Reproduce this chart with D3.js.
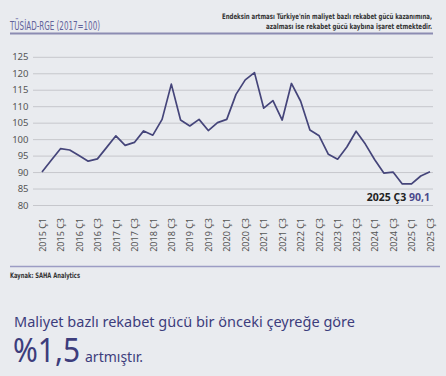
<!DOCTYPE html>
<html>
<head>
<meta charset="utf-8">
<script src="https://cdn.jsdelivr.net/npm/d3@7"></script>
<style>
  body { margin: 0; background: #e9ebef; }
  svg { display: block; }
</style>
</head>
<body>
<svg id="chart" width="446" height="376"></svg>
<script>
// quarters 2015 Ç1 .. 2025 Ç3
const years = d3.range(2015, 2026);
const quarters = years.flatMap(y => [1, 2, 3, 4].map(q => `${y} Ç${q}`)).slice(0, 43);
const values = [90.0, 93.6, 97.1, 96.7, 95.0, 93.3, 94.0, 97.5, 101.0, 98.1, 99.0,
  102.5, 101.2, 106.0, 116.7, 105.8, 104.0, 106.0, 102.6, 105.0, 106.0,
  113.6, 118.0, 120.2, 109.4, 111.7, 105.8, 116.9, 111.5, 102.8, 101.0,
  95.4, 93.9, 97.6, 102.4, 98.5, 93.8, 89.7, 90.0, 86.4, 86.4, 88.8, 90.1];
const yTicks = [80, 85, 90, 95, 100, 105, 110, 115, 120, 125];
const xTicks = quarters.filter(q => q.endsWith("Ç1") || q.endsWith("Ç3"));

const svg = d3.select("#chart");
const ink = "#45457a";
const numFont = "'Noto Sans', sans-serif";
const narrow = "'DejaVu Sans Condensed', 'Liberation Sans Narrow', sans-serif";

const x = d3.scalePoint().domain(quarters).range([42, 430]);
const y = d3.scaleLinear().domain([80, 125]).range([205, 56.8]);

// header
svg.append("text")
  .attr("x", 10).attr("y", 29.5)
  .attr("font-family", narrow).attr("font-size", 12)
  .attr("textLength", 90).attr("lengthAdjust", "spacingAndGlyphs")
  .attr("fill", "#62629a")
  .text("TÜSİAD-RGE (2017=100)");

const note = ["Endeksin artması Türkiye'nin maliyet bazlı rekabet gücü kazanımına,",
  "azalması ise rekabet gücü kaybına işaret etmektedir."];
svg.selectAll(".note").data(note).enter().append("text")
  .attr("class", "note")
  .attr("x", 432).attr("y", (d, i) => 18.5 + i * 10.5)
  .attr("text-anchor", "end")
  .attr("font-family", narrow).attr("font-size", 7.5).attr("font-weight", "bold")
  .attr("textLength", (d, i) => i == 0 ? 210 : 166).attr("lengthAdjust", "spacingAndGlyphs")
  .attr("fill", "#333")
  .text(d => d);

svg.append("line")
  .attr("x1", 10).attr("x2", 433).attr("y1", 33.5).attr("y2", 33.5)
  .attr("stroke", "#8c8cb2").attr("stroke-width", 2);

// y grid + labels
const yAxis = svg.append("g")
  .attr("transform", "translate(433,0)")
  .call(d3.axisLeft(y).tickValues(yTicks).tickSize(400).tickPadding(4.5));
yAxis.select(".domain").remove();
yAxis.selectAll("line").attr("stroke", "#c6c7cc").attr("stroke-width", 1);
yAxis.selectAll("text")
  .attr("font-family", numFont).attr("font-size", 9.5).attr("fill", "#555");

// x labels
const xAxis = svg.append("g")
  .attr("transform", "translate(0,205)")
  .call(d3.axisBottom(x).tickValues(xTicks).tickSize(0));
xAxis.select(".domain").remove();
xAxis.selectAll("text")
  .attr("transform", "rotate(-90)")
  .attr("x", -13).attr("y", 0).attr("dy", "0.35em")
  .attr("text-anchor", "end")
  .attr("font-family", numFont).attr("font-size", 9).attr("fill", "#555");

// line
svg.append("path")
  .datum(values)
  .attr("fill", "none")
  .attr("stroke", ink).attr("stroke-width", 1.7)
  .attr("stroke-linejoin", "round")
  .attr("d", d3.line().x((d, i) => x(quarters[i])).y(d => y(d)));

// last value annotation
const last = values.length - 1;
const ann = svg.append("text")
  .attr("x", x(quarters[last])).attr("y", y(values[last]) + 29)
  .attr("text-anchor", "end")
  .attr("font-family", numFont).attr("font-size", 10.5).attr("font-weight", "bold");
ann.append("tspan").attr("fill", "#222").text(quarters[last] + " ");
ann.append("tspan").attr("fill", "#4a4a8c").text(String(values[last]).replace(".", ","));

// bottom rule + source
svg.append("line")
  .attr("x1", 10).attr("x2", 440).attr("y1", 266.5).attr("y2", 266.5)
  .attr("stroke", "#9c9cc4").attr("stroke-width", 1.5);
svg.append("text")
  .attr("x", 10).attr("y", 278)
  .attr("font-family", narrow).attr("font-size", 7.5).attr("font-weight", "bold")
  .attr("textLength", 70).attr("lengthAdjust", "spacingAndGlyphs")
  .attr("fill", "#333")
  .text("Kaynak: SAHA Analytics");

// summary text
svg.append("text")
  .attr("x", 14).attr("y", 327)
  .attr("font-family", numFont).attr("font-size", 14.5)
  .attr("fill", "#3d3d7c")
  .text("Maliyet bazlı rekabet gücü bir önceki çeyreğe göre");
svg.append("text")
  .attr("x", 13).attr("y", 362)
  .attr("font-family", numFont).attr("font-size", 32)
  .attr("textLength", 67).attr("lengthAdjust", "spacingAndGlyphs")
  .attr("fill", "#3d3d7c")
  .text("%1,5");
svg.append("text")
  .attr("x", 85).attr("y", 362)
  .attr("font-family", numFont).attr("font-size", 14)
  .attr("fill", "#3d3d7c")
  .text("artmıştır.");
</script>
</body>
</html>
